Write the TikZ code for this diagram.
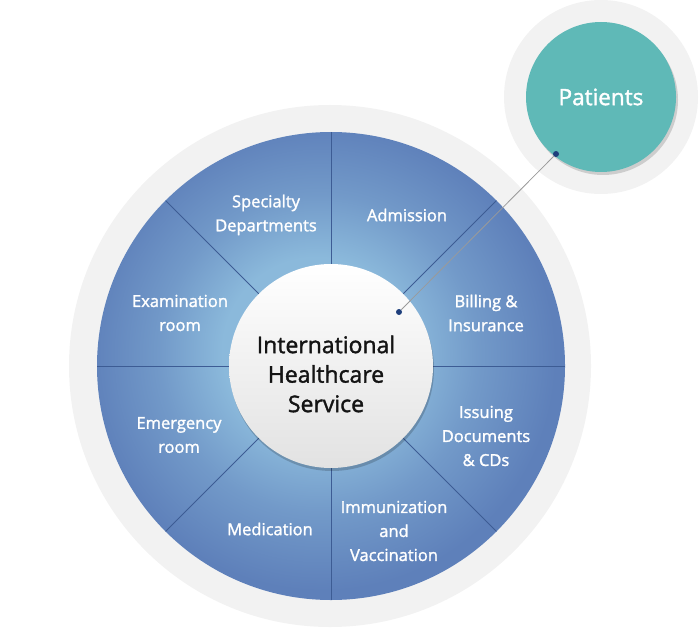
\documentclass[tikz,border=0pt]{standalone}
\usepackage{fontspec}
\setmainfont{Open Sans}[RawFeature={embolden=1.6}]
\usetikzlibrary{shadows}
\definecolor{ringgray}{HTML}{F2F2F2}
\definecolor{diskedge}{HTML}{5E80BA}
\definecolor{diskin}{HTML}{8BB9DB}
\definecolor{divider}{HTML}{3D5C94}
\definecolor{pteal}{HTML}{5FB9B7}
\definecolor{dotblue}{HTML}{1E3F7C}
\definecolor{hubbottom}{HTML}{E2E2E2}
\definecolor{linkgray}{HTML}{9A9A9A}
\pgfdeclareradialshading{bluedisk}{\pgfpoint{-2bp}{2bp}}{color(0bp)=(diskin); color(10bp)=(diskin); color(17bp)=(diskin!45!diskedge); color(25bp)=(diskedge); color(50bp)=(diskedge)}
\tikzset{
  ringbox/.style={circle, fill=ringgray, inner sep=0pt, outer sep=0pt},
  seglabel/.style={text=white, align=center, inner sep=0pt, font=\fontsize{16.5}{24}\selectfont},
  dividerline/.style={draw=divider, line width=0.8pt},
  linkdot/.style={circle, fill=dotblue, inner sep=0pt, minimum size=6pt},
}
\begin{document}
\begin{tikzpicture}[x=1pt, y=-1pt]
\useasboundingbox (0,0) rectangle (700,628);
% outer light rings
\node[ringbox, minimum size=522pt] (ring) at (330,366) {};
\node[ringbox, minimum size=194pt] (pring) at (601,97) {};
% blue disk
\node[circle, shade, shading=bluedisk, inner sep=0pt, outer sep=0pt, minimum size=468pt] (disk) at (331,366) {};
% hub placeholder for divider anchors
\node[circle, inner sep=0pt, outer sep=0pt, minimum size=204pt] (hubref) at (331,366) {};
\foreach \a in {0,45,...,315} {
  \draw[dividerline] (hubref.\a) -- (disk.\a);
}
% central hub
\node[circle, inner sep=0pt, outer sep=0pt, minimum size=204pt,
      top color=white, bottom color=hubbottom,
      drop shadow={shadow xshift=1pt, shadow yshift=-3pt, opacity=0.18, fill=black}]
      (hub) at (331,366) {};
\node[align=center, text=black!92, inner sep=0pt, font=\fontsize{23}{29.5}\selectfont]
      (hubtext) at (326,374) {International\\Healthcare\\Service};
% patients
\node[circle, fill=pteal, inner sep=0pt, outer sep=0pt, minimum size=150pt,
      drop shadow={shadow xshift=2pt, shadow yshift=-3pt, opacity=0.15, fill=black},
      text=white, font=\fontsize{22.5}{26}\selectfont]
      (patients) at (601,97) {Patients};
% segment labels
\node[seglabel] (spec) at (266,215) {Specialty\\Departments};
\node[seglabel] (adm) at (407,215) {Admission};
\node[seglabel] (bill) at (486,313) {Billing \&\\Insurance};
\node[seglabel] (exam) at (180,313) {Examination\\room};
\node[seglabel] (emer) at (179,435) {Emergency\\room};
\node[seglabel] (issue) at (486,436) {Issuing\\Documents\\\& CDs};
\node[seglabel] (med) at (270,529) {Medication};
\node[seglabel] (immu) at (394,531) {Immunization\\and\\Vaccination};
% link
\node[linkdot] (dotA) at (399,312) {};
\node[linkdot] (dotB) at (556,154) {};
\draw[linkgray, line width=0.8pt] (dotA) -- (dotB);
\end{tikzpicture}
\end{document}
